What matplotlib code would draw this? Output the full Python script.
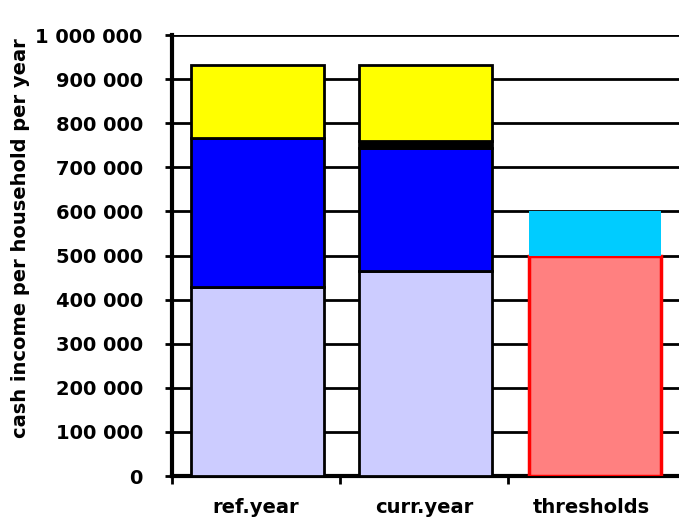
import matplotlib
matplotlib.use("Agg")
import matplotlib.pyplot as plt

# -----------------------------
# Data
# -----------------------------
categories = ["ref.year", "curr.year", "thresholds"]
base_income = [428000, 465000]      # lavender
main_income = [338000, 279000]      # blue
small_part = [0, 16000]             # thin black slice
other_income = [166000, 172000]     # yellow
threshold_low = 500000              # pink
threshold_high = 100000             # cyan (on top)
yticks = list(range(0, 1000001, 100000))

plt.rcParams["font.family"] = ["DejaVu Sans"]
plt.rcParams["font.weight"] = "bold"
plt.rcParams["axes.labelweight"] = "bold"

fig = plt.figure(figsize=(6.79, 5.2), dpi=100)
ax = fig.add_axes([0.2533, 0.0846, 0.7467, 0.848])

# -----------------------------
# Stacked bars
# -----------------------------
x = [0.01, 1.01]
w = 0.79
edge = dict(edgecolor="black", linewidth=2, zorder=3)

ax.bar(x, base_income, w, color="#CCCCFF", **edge)
bottom = base_income
ax.bar(x, main_income, w, bottom=bottom, color="#0000FF", **edge)
bottom = [a + b for a, b in zip(bottom, main_income)]
ax.bar(x, small_part, w, bottom=bottom, color="black", **edge)
bottom = [a + b for a, b in zip(bottom, small_part)]
ax.bar(x, other_income, w, bottom=bottom, color="#FFFF00", **edge)

ax.bar(2.02, threshold_low, w, color="#FF8080", edgecolor="#FF0000",
       linewidth=2.5, zorder=3)
ax.bar(2.02, threshold_high, w, bottom=threshold_low, color="#00CCFF",
       linewidth=0, zorder=4)

# -----------------------------
# Axes styling
# -----------------------------
ax.set_xlim(-0.5, 2.52)
ax.set_ylim(0, 1000000)
ax.set_yticks(yticks)
ax.set_yticklabels([f"{v:,}".replace(",", " ") for v in yticks], fontsize=14)
ax.yaxis.grid(True, color="black", linewidth=2)
ax.set_axisbelow(True)

ax.set_xticks([0, 1, 2])
ax.set_xticklabels(categories, fontsize=14)
ax.set_xticks([-0.5, 0.5, 1.5], minor=True)
ax.tick_params(axis="x", which="major", length=0, pad=16)
ax.tick_params(axis="x", which="minor", length=6, width=2, direction="out")
ax.tick_params(axis="y", length=5, width=2, direction="out", pad=16)

for side in ["top", "right"]:
    ax.spines[side].set_visible(False)
ax.spines["left"].set_linewidth(3)
ax.spines["bottom"].set_linewidth(3)

ax.set_ylabel("cash income per household per year", fontsize=14)
ax.yaxis.set_label_coords(-0.28, 0.54)

plt.savefig("out.png", dpi=100)
